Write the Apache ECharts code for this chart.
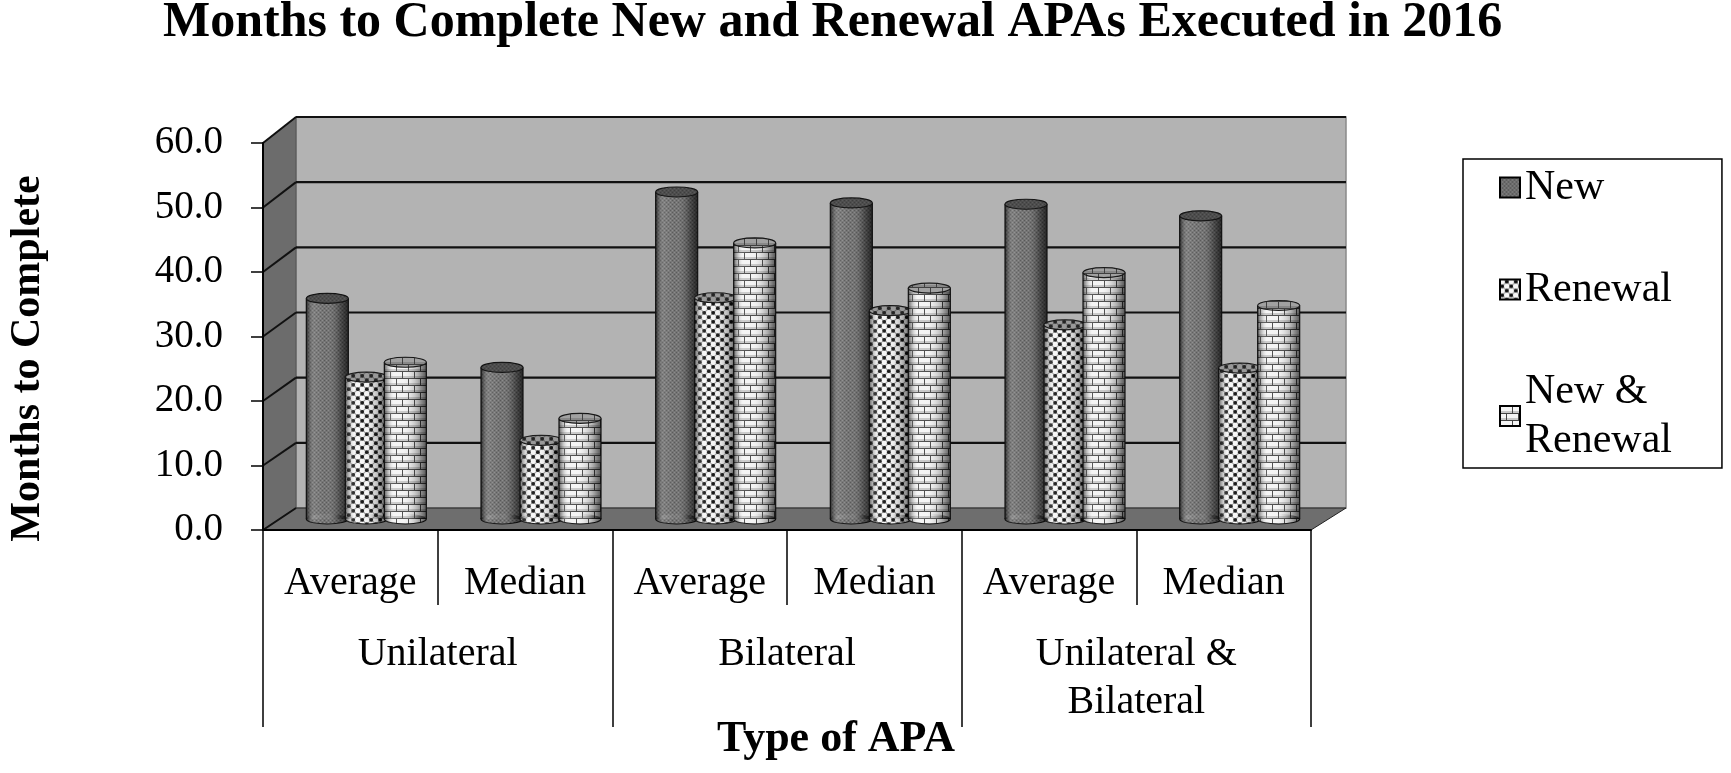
<!DOCTYPE html>
<html>
<head>
	<meta charset="UTF-8">
	<title>Months to Complete New and Renewal APAs Executed in 2016</title>
	<style>
		html, body { margin: 0; padding: 0; background: #fff; }
		#main { width: 1731px; height: 773px; }
	</style>
</head>
<body>
<div id="main"></div>
<script src="https://cdn.jsdelivr.net/npm/echarts@6/dist/echarts.min.js"></script>
<script>
    // data
    var categories = ['Average', 'Median', 'Average', 'Median', 'Average', 'Median'];
    var groups = ['Unilateral', 'Bilateral', 'Unilateral &\nBilateral'];
    var newVals = [34.2, 23.5, 50.7, 49.0, 48.8, 47.0];
    var renewalVals = [22.0, 12.2, 34.3, 32.3, 30.1, 23.4];
    var bothVals = [24.3, 15.6, 42.8, 35.8, 38.2, 33.1];
    var yTicks = [0, 10, 20, 30, 40, 50, 60];

    var FONT = 'Liberation Serif';

    // fake 3d depth
    var DX = 33;
    function depthY(v) { return 22 + 4 * v / 60; }
    var OFF_X = 16, OFF_Y = 11, STEP = 39, BAR_W = 42, RY = 5;

    function makePattern(w, h, draw) {
        var c = document.createElement('canvas');
        c.width = w; c.height = h;
        draw(c.getContext('2d'));
        return {image: c, repeat: 'repeat'};
    }

    var patNew = makePattern(4, 4, function (g) {
        g.fillStyle = '#6c6c6c'; g.fillRect(0, 0, 4, 4);
        g.fillStyle = '#505050';
        g.fillRect(0, 0, 1, 1); g.fillRect(2, 2, 1, 1);
        g.fillStyle = '#858585';
        g.fillRect(2, 0, 1, 1); g.fillRect(0, 2, 1, 1);
    });
    var patRenewal = makePattern(9, 9, function (g) {
        g.fillStyle = '#8e8e8e'; g.fillRect(0, 0, 9, 9);
        g.fillStyle = '#f6f6f6';
        g.beginPath(); g.arc(2.25, 2.25, 2.7, 0, Math.PI * 2); g.fill();
        g.beginPath(); g.arc(6.75, 6.75, 2.7, 0, Math.PI * 2); g.fill();
        g.fillStyle = '#0c0c0c';
        g.beginPath(); g.arc(6.75, 2.25, 1.8, 0, Math.PI * 2); g.fill();
        g.beginPath(); g.arc(2.25, 6.75, 1.8, 0, Math.PI * 2); g.fill();
    });
    var patBoth = makePattern(12, 14, function (g) {
        g.fillStyle = '#f4f4f4'; g.fillRect(0, 0, 12, 14);
        g.fillStyle = '#9a9a9a';
        g.fillRect(0, 5.5, 12, 1); g.fillRect(0, 12.5, 12, 1);
        g.fillStyle = '#444';
        g.fillRect(0, 0, 12, 1); g.fillRect(0, 7, 12, 1);
        g.fillRect(0, 0, 1, 7); g.fillRect(6, 7, 1, 7);
    });

    var shade = function () {
        return new echarts.graphic.LinearGradient(0, 0, 1, 0, [
            {offset: 0, color: 'rgba(0,0,0,0.6)'},
            {offset: 0.22, color: 'rgba(255,255,255,0.12)'},
            {offset: 0.45, color: 'rgba(255,255,255,0.05)'},
            {offset: 0.8, color: 'rgba(0,0,0,0.28)'},
            {offset: 1, color: 'rgba(0,0,0,0.65)'}
        ]);
    };

    function cylinder(k, pat, capColor) {
        return function (params, api) {
            var i = api.value(0), v = api.value(1);
            var top = api.coord([i, v]);
            var base = api.coord([i, 0]);
            var cx = top[0] + OFF_X + (k - 1) * STEP;
            var yT = top[1] - OFF_Y, yB = base[1] - OFF_Y;
            var rx = BAR_W / 2;
            return {
                type: 'group',
                children: [
                    {type: 'ellipse', shape: {cx: cx, cy: yB, rx: rx, ry: RY},
                        style: {fill: pat, stroke: '#111', lineWidth: 1.2}},
                    {type: 'rect', shape: {x: cx - rx, y: yT, width: BAR_W, height: yB - yT},
                        style: {fill: pat}},
                    {type: 'ellipse', shape: {cx: cx, cy: yB, rx: rx, ry: RY},
                        style: {fill: shade()}},
                    {type: 'rect', shape: {x: cx - rx, y: yT, width: BAR_W, height: yB - yT},
                        style: {fill: shade()}},
                    {type: 'line', shape: {x1: cx - rx, y1: yT, x2: cx - rx, y2: yB},
                        style: {stroke: '#111', lineWidth: 1.2}},
                    {type: 'line', shape: {x1: cx + rx, y1: yT, x2: cx + rx, y2: yB},
                        style: {stroke: '#111', lineWidth: 1.2}},
                    {type: 'ellipse', shape: {cx: cx, cy: yT, rx: rx, ry: RY},
                        style: {fill: pat, stroke: '#111', lineWidth: 1.2}},
                    {type: 'ellipse', shape: {cx: cx, cy: yT, rx: rx, ry: RY},
                        style: {fill: capColor}}
                ]
            };
        };
    }

    function frameItem(params, api) {
        var cs = params.coordSys;
        var x0 = cs.x, x1 = cs.x + cs.width;
        var v = api.value(1);
        var yf = api.coord([0, v])[1];
        var yb = yf - depthY(v);
        var children = [];
        if (params.dataIndex === 0) {
            var vMax = yTicks[yTicks.length - 1];
            var yfTop = api.coord([0, vMax])[1];
            var ybTop = yfTop - depthY(vMax);
            children.push({type: 'rect', shape: {x: x0 + DX, y: ybTop, width: x1 - x0 + 2, height: yb - ybTop},
                style: {fill: '#b3b3b3', stroke: '#8a8a8a', lineWidth: 1.5}});
            children.push({type: 'polygon', shape: {points: [[x0, yfTop], [x0 + DX, ybTop], [x0 + DX, yb], [x0, yf]]},
                style: {fill: '#6c6c6c', stroke: '#555', lineWidth: 1}});
            children.push({type: 'polygon', shape: {points: [[x0, yf], [x0 + DX, yb], [x1 + DX + 2, yb], [x1, yf]]},
                style: {fill: '#6e6e6e', stroke: '#222', lineWidth: 1}});
        }
        children.push({type: 'line', shape: {x1: x0, y1: yf, x2: x0 + DX, y2: yb},
            style: {stroke: '#111', lineWidth: 2}});
        if (v !== 0) {
            children.push({type: 'line', shape: {x1: x0 + DX, y1: yb, x2: x1 + DX + 2, y2: yb},
                style: {stroke: '#111', lineWidth: 2.2}});
        }
        return {type: 'group', children: children};
    }

    function pairs(arr) {
        return arr.map(function (v, i) { return [i, v]; });
    }

    var chart = echarts.init(document.getElementById('main'));
    var option = {
        animation: false,
        backgroundColor: '#fff',
        title: {
            text: 'Months to Complete New and Renewal APAs Executed in 2016',
            left: 158,
            top: -7,
            textStyle: {fontFamily: FONT, fontWeight: 'bold', fontSize: 50, color: '#000'}
        },
        legend: {
            orient: 'vertical',
            left: 1463,
            top: 159,
            padding: [4, 50, 3, 36],
            itemWidth: 20,
            itemHeight: 20,
            itemGap: 53,
            backgroundColor: '#fff',
            borderColor: '#000',
            borderWidth: 1.5,
            borderRadius: 0,
            icon: 'rect',
            formatter: function (n) { return n === 'New & Renewal' ? 'New &\nRenewal' : n; },
            textStyle: {fontFamily: FONT, fontSize: 42, lineHeight: 49, color: '#000'},
            data: ['New', 'Renewal', 'New & Renewal']
        },
        grid: {left: 263, top: 143, width: 1048, height: 387, containLabel: false, outerBoundsMode: 'none'},
        xAxis: [{
            type: 'category',
            data: categories,
            z: 10,
            axisLine: {show: true, lineStyle: {color: '#000', width: 2}},
            axisTick: {show: true, interval: 0, length: 75, lineStyle: {color: '#000', width: 1.5}},
            axisLabel: {interval: 0, margin: 30, fontFamily: FONT, fontSize: 40, lineHeight: 46, color: '#000'},
            splitLine: {show: false}
        }, {
            type: 'category',
            data: groups,
            position: 'bottom',
            z: 10,
            axisLine: {show: false},
            axisTick: {show: true, interval: 0, length: 197, lineStyle: {color: '#000', width: 1.5}},
            axisLabel: {interval: 0, margin: 100, fontFamily: FONT, fontSize: 40, lineHeight: 48, color: '#000'},
            name: 'Type of APA',
            nameLocation: 'middle',
            nameGap: 186,
            nameMoveOverlap: false,
            nameTextStyle: {fontFamily: FONT, fontWeight: 'bold', fontSize: 44, lineHeight: 48, color: '#000', padding: [0, 0, 0, 98]}
        }],
        yAxis: {
            type: 'value',
            min: 0,
            max: 60,
            interval: 10,
            z: 10,
            axisLine: {show: true, lineStyle: {color: '#000', width: 2}},
            axisTick: {show: true, length: 12, lineStyle: {color: '#000', width: 1.5}},
            axisLabel: {margin: 40, fontFamily: FONT, fontSize: 39, color: '#000',
                formatter: function (v) { return v.toFixed(1); }},
            splitLine: {show: false},
            name: 'Months to Complete',
            nameLocation: 'middle',
            nameGap: 212,
            nameMoveOverlap: false,
            nameTextStyle: {fontFamily: FONT, fontWeight: 'bold', fontSize: 42, lineHeight: 46, color: '#000', padding: [0, 44, 0, 0]}
        },
        series: [{
            type: 'custom',
            name: 'frame',
            z: 1,
            silent: true,
            renderItem: frameItem,
            data: yTicks.map(function (v) { return [0, v]; })
        }, {
            type: 'custom',
            name: 'New',
            z: 3,
            itemStyle: {color: patNew, borderColor: '#000', borderWidth: 1.5},
            renderItem: cylinder(0, patNew, 'rgba(40,40,40,0.45)'),
            data: pairs(newVals)
        }, {
            type: 'custom',
            name: 'Renewal',
            z: 3,
            itemStyle: {color: patRenewal, borderColor: '#000', borderWidth: 1.5},
            renderItem: cylinder(1, patRenewal, 'rgba(60,60,60,0.5)'),
            data: pairs(renewalVals)
        }, {
            type: 'custom',
            name: 'New & Renewal',
            z: 3,
            itemStyle: {color: patBoth, borderColor: '#000', borderWidth: 1.5},
            renderItem: cylinder(2, patBoth, 'rgba(60,60,60,0.45)'),
            data: pairs(bothVals)
        }]
    };
    chart.setOption(option);
</script>
</body>
</html>
